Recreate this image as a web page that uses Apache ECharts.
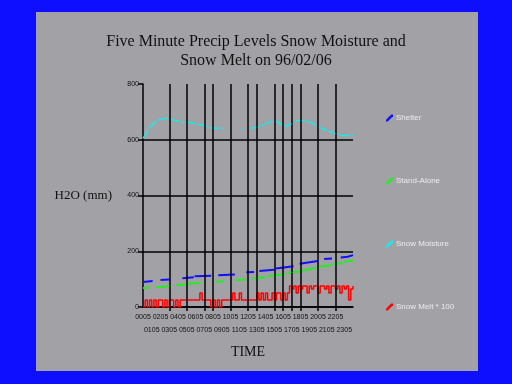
<!DOCTYPE html>
<html>
<head>
<meta charset="utf-8">
<script src="https://cdn.jsdelivr.net/npm/echarts@6/dist/echarts.min.js"></script>
<style>
html,body{margin:0;padding:0;width:512px;height:384px;background:#0f0fff;overflow:hidden;}
#panel{position:absolute;left:36px;top:12px;width:442px;height:359px;background:#a2a1a6;}
#chart{position:absolute;left:0;top:0;width:512px;height:384px;}
</style>
</head>
<body>
<div id="panel"></div>
<div id="chart"></div>
<script>
// ---- data ----
const titleText = "Five Minute Precip Levels Snow Moisture and\nSnow Melt on 96/02/06";
const timeLabels = ["0005","0105","0205","0305","0405","0505","0605","0705","0805","0905","1005","1105",
                    "1205","1305","1405","1505","1605","1705","1805","1905","2005","2105","2205","2305"];
const gridHours = [3,5,7,8,10,12,13,15,16,17,18,20,22];
const yTicks = [0,200,400,600,800];
const seriesNames = ["Shelter","Stand-Alone","Snow Moisture","Snow Melt * 100"];

// Shelter (blue) - null marks a gap
const shelterX = [0,1.1,1.5,2.0,3.0,3.7,4.5,5.8,5.85,5.9,7.8,8.2,8.6,10.5,11.1,11.8,12.7,13.0,13.3,15.0,15.1,15.2,17.2,17.5,17.9,20.0,20.3,20.7,21.6,22.1,22.6,23.4,23.5,24];
const shelterY = [90,93,null,97,99,null,103,107,null,110,112,null,114,117,null,125,126,null,129,134,null,138,146,null,155,165,null,172,174,null,178,180,183,186];

// Stand-Alone (green)
const standX = [0,0.8,1.2,1.5,3.0,3.4,3.8,4.9,4.95,5.0,6.6,7.4,8.3,9.2,9.9,10.6,11.8,12.2,12.5,14.0,14.2,14.3,16.3,16.4,16.5,18.0,18.1,18.2,19.8,19.9,20.0,21.5,21.6,21.7,22.8,22.9,23.0,24];
const standY = [68,69,null,71,74,null,79,80,null,83,86,null,90,92,null,97,99,null,102,107,null,110,118,null,122,128,null,131,140,null,144,150,null,153,158,null,162,167];

// Snow Moisture (cyan)
const moistX = [0,0.4,0.8,1.4,2.0,2.6,3.1,3.5,4.0,4.6,4.75,4.9,5.4,6.0,6.6,7.1,7.6,8.0,8.5,9.2,10.2,11.2,11.4,11.8,12.3,13.0,13.5,14.0,14.5,15.1,15.5,15.9,16.4,16.8,17.2,17.6,18.1,18.6,19.1,19.6,20.0,20.5,21.0,21.5,21.9,22.4,22.9,23.5,24];
const moistY = [605,625,646,664,674,676,676,670,667,664,null,662,662,657,654,650,644,641,641,641,null,637,637,null,641,645,651,657,664,667,661,654,649,655,664,668,670,668,664,655,647,640,634,628,622,618,615,615,617];

// Snow Melt * 100 (red), one value every 15 minutes from 00:00
const meltStepHours = 0.25;
const meltY = [0,25,0,25,0,25,0,25,25,0,25,0,25,25,0,25,0,25,25,25,25,25,25,25,25,25,
               50,25,25,25,25,0,25,0,25,0,25,25,25,25,25,50,25,25,50,25,25,25,25,25,25,25,
               50,25,50,25,50,25,25,50,25,50,50,25,50,25,50,75,65,75,50,75,65,75,75,50,75,65,
               75,75,50,75,75,65,75,50,75,75,65,75,50,75,65,75,25,65,75];

// ---- build ----
function zip(xs, ys){ return xs.map((x,i)=>[x, ys[i]===null ? '-' : ys[i]]); }
const meltData = meltY.map((v,i)=>[i*meltStepHours, v]);
const evenHours = timeLabels.map((_,i)=>i).filter(i=>i%2===0);
const oddHours = timeLabels.map((_,i)=>i).filter(i=>i%2===1);

const chart = echarts.init(document.getElementById('chart'), null, {renderer:'canvas'});
const serif = '"Liberation Serif","DejaVu Serif",serif';
const sans = '"Liberation Sans","DejaVu Sans",sans-serif';
const icon = 'path://M0,8 L2,8 L8,2 L8,0 L6,0 L0,6 Z';
const labelFmt = function(v){
  const i = Math.round(v);
  return (i >= 0 && i < timeLabels.length) ? timeLabels[i] : '';
};

chart.setOption({
  backgroundColor: 'transparent',
  animation: false,
  title: {
    text: titleText, left: 'center', top: 27,
    textStyle: {fontFamily: serif, fontSize: 16, fontWeight: 'normal', color: '#111', lineHeight: 19}
  },
  legend: {
    data: seriesNames, orient: 'vertical', left: 381, top: 109,
    itemWidth: 7, itemHeight: 7, itemGap: 55, icon: icon,
    textStyle: {fontFamily: sans, fontSize: 8, color: '#ececec', padding: [0,0,0,-2]}
  },
  grid: {left: 143, top: 84, width: 210, height: 223, containLabel: false},
  xAxis: [{
    type: 'value', min: 0, max: 24, interval: 1,
    name: 'TIME', nameLocation: 'middle', nameGap: 38,
    nameTextStyle: {fontFamily: serif, fontSize: 14, color: '#111'},
    axisLine: {show: true, onZero: false, lineStyle: {color: '#000', width: 1.5}},
    axisTick: {show: true, length: 4, lineStyle: {color: '#000', width: 1.5}, customValues: gridHours},
    axisLabel: {
      fontFamily: sans, fontSize: 7, color: '#111', margin: 7,
      customValues: evenHours, hideOverlap: false, showMinLabel: true, showMaxLabel: true, formatter: labelFmt
    },
    splitLine: {show: false}
  }, {
    type: 'value', min: 0, max: 24, interval: 1, position: 'bottom',
    axisLine: {show: false}, axisTick: {show: false}, splitLine: {show: false},
    axisLabel: {
      fontFamily: sans, fontSize: 7, color: '#111', margin: 20,
      customValues: oddHours, hideOverlap: false, showMinLabel: true, showMaxLabel: true, formatter: labelFmt
    }
  }],
  yAxis: {
    type: 'value', min: yTicks[0], max: yTicks[yTicks.length-1], interval: yTicks[1]-yTicks[0],
    name: 'H2O (mm)', nameLocation: 'middle', nameRotate: 0, nameGap: 31,
    nameTextStyle: {fontFamily: serif, fontSize: 13, color: '#111', padding: [0,0,14,0]},
    axisLine: {show: true, lineStyle: {color: '#000', width: 1.5}},
    axisTick: {show: true, length: 5, lineStyle: {color: '#000', width: 1.5}},
    axisLabel: {fontFamily: sans, fontSize: 7, color: '#111', margin: 4},
    splitLine: {show: true, showMaxLine: false, lineStyle: {color: '#000', width: 1.5}}
  },
  series: [
    {name: seriesNames[0], type: 'line', data: zip(shelterX, shelterY), showSymbol: false, symbol: 'none',
     connectNulls: false, color: '#1010ff', lineStyle: {width: 2, color: '#1010ff'}, z: 4},
    {name: seriesNames[1], type: 'line', data: zip(standX, standY), showSymbol: false, symbol: 'none',
     connectNulls: false, color: '#22ee22', lineStyle: {width: 2, color: '#22ee22'}, z: 4},
    {name: seriesNames[2], type: 'line', data: zip(moistX, moistY), showSymbol: false, symbol: 'none',
     connectNulls: false, color: '#10eeee', lineStyle: {width: 1.5, color: '#10eeee', type: [10,2]}, z: 4},
    {name: seriesNames[3], type: 'line', data: meltData, step: 'end', showSymbol: false, symbol: 'none',
     color: '#ff0000', lineStyle: {width: 1.5, color: '#ff0000'}, z: 3,
     markLine: {
       silent: true, symbol: ['none','none'], label: {show: false},
       lineStyle: {color: '#000', width: 1.5, type: 'solid'},
       data: gridHours.map(h => ({xAxis: h}))
     }}
  ]
});
</script>
</body>
</html>
